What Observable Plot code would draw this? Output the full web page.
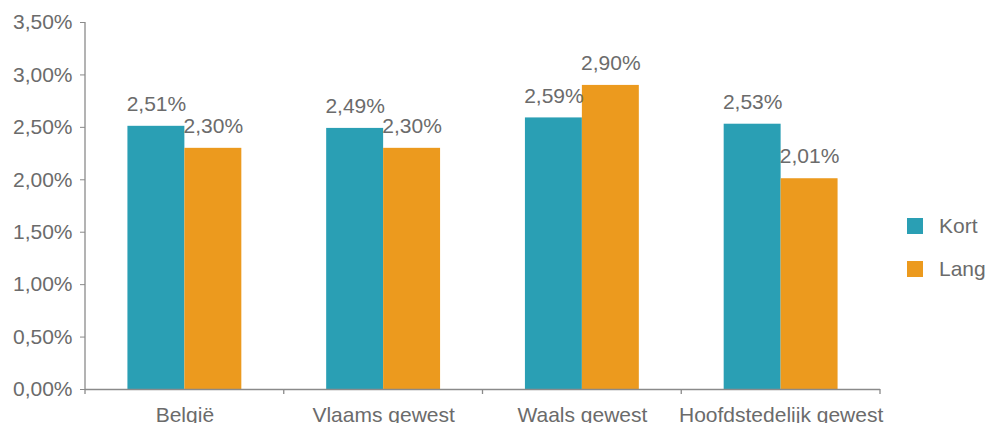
<!DOCTYPE html>
<html>
<head>
<meta charset="utf-8">
<script src="https://cdn.jsdelivr.net/npm/d3@7"></script>
<script src="https://cdn.jsdelivr.net/npm/@observablehq/plot@0.6"></script>
<style>
  html, body { margin: 0; padding: 0; background: #fff; }
  #wrap { position: relative; width: 986px; height: 423px; overflow: hidden; font-family: "Liberation Sans", Arial, Helvetica, sans-serif; }
  #legend { position: absolute; left: 907px; top: 218px; color: #6b6b6b; font-size: 21px; }
  .item { display: flex; align-items: center; height: 16px; margin-bottom: 27px; }
  .sw { width: 16px; height: 16px; margin-right: 16px; }
</style>
</head>
<body>
<div id="wrap"><div id="legend"></div></div>
<script>
const categories = ["België", "Vlaams gewest", "Waals gewest", "Hoofdstedelijk gewest"];
const series = ["Kort", "Lang"];
const kort = [2.51, 2.49, 2.59, 2.53];
const lang = [2.30, 2.30, 2.90, 2.01];
const yTicks = [0, 0.5, 1, 1.5, 2, 2.5, 3, 3.5];
const colors = ["#2a9fb4", "#ec9a1e"];

const data = [];
categories.forEach((c, i) => {
  data.push({region: c, serie: "Kort", value: kort[i]});
  data.push({region: c, serie: "Lang", value: lang[i]});
});

const fmt = v => v.toFixed(2).replace(".", ",") + "%";
const textColor = "#6b6b6b";
const axisColor = "#8a8a8a";

const plot = Plot.plot({
  width: 986,
  height: 423,
  marginLeft: 85,
  marginRight: 106,
  marginTop: 22,
  marginBottom: 34,
  style: {fontFamily: "'Liberation Sans', Arial, Helvetica, sans-serif", fontSize: "21px", color: textColor, background: "#fff", overflow: "visible"},
  fx: {domain: categories, padding: 0, round: false, label: null},
  x: {domain: series, paddingInner: 0, paddingOuter: 0.745, round: false, axis: null},
  y: {domain: [0, 3.5], label: null},
  color: {domain: series, range: colors},
  marks: [
    Plot.axisY({ticks: yTicks, tickFormat: fmt, tickSize: 5, tickPadding: 8, fontSize: 21, fill: textColor, stroke: axisColor, label: null}),
    Plot.axisFx({anchor: "bottom", tickSize: 0, tickPadding: 18, fontSize: 21, fill: textColor, label: null}),
    Plot.barY(data, {fx: "region", x: "serie", y: "value", fill: "serie"}),
    Plot.ruleY([0], {stroke: axisColor, strokeWidth: 1.3}),
    Plot.text(data, {fx: "region", x: "serie", y: "value", text: d => fmt(d.value), dy: -22, fontSize: 21, fill: textColor})
  ]
});

// axis line and band boundary ticks, positioned with Plot's own scales
const ys = plot.scale("y");
const fxs = plot.scale("fx");
const svg = d3.select(plot);
const g = svg.append("g").attr("stroke", axisColor).attr("stroke-width", 1.3);
const x0 = fxs.apply(categories[0]);
g.append("line").attr("x1", x0).attr("x2", x0).attr("y1", ys.apply(3.5)).attr("y2", ys.apply(0));
const bounds = categories.map(c => fxs.apply(c)).concat([fxs.apply(categories[categories.length - 1]) + fxs.bandwidth]);
bounds.forEach(b => {
  g.append("line").attr("x1", b).attr("x2", b).attr("y1", ys.apply(0)).attr("y2", ys.apply(0) + 5);
});

const wrap = document.getElementById("wrap");
wrap.insertBefore(plot, wrap.firstChild);
plot.style.position = "absolute";
plot.style.left = "0";
plot.style.top = "0";

const legend = document.getElementById("legend");
series.forEach((s, i) => {
  const it = document.createElement("div");
  it.className = "item";
  it.innerHTML = `<div class="sw" style="background:${colors[i]}"></div><span>${s}</span>`;
  legend.appendChild(it);
});
</script>
</body>
</html>
